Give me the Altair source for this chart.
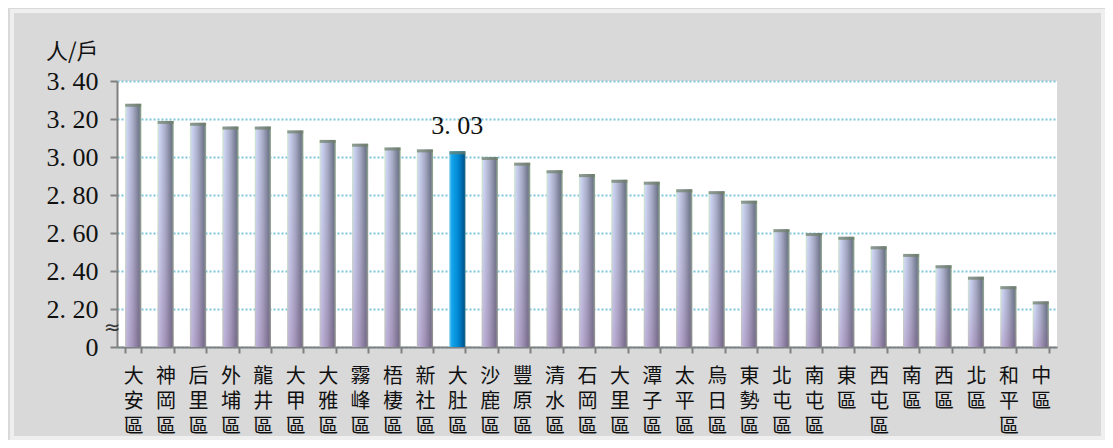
import altair as alt
import pandas as pd

districts = ["大安區", "神岡區", "后里區", "外埔區", "龍井區", "大甲區", "大雅區", "霧峰區",
             "梧棲區", "新社區", "大肚區", "沙鹿區", "豐原區", "清水區", "石岡區", "大里區",
             "潭子區", "太平區", "烏日區", "東勢區", "北屯區", "南屯區", "東區", "西屯區",
             "南區", "西區", "北區", "和平區", "中區"]
values = [3.28, 3.19, 3.18, 3.16, 3.16, 3.14, 3.09, 3.07, 3.05, 3.04, 3.03, 3.00, 2.97,
          2.93, 2.91, 2.88, 2.87, 2.83, 2.82, 2.77, 2.62, 2.60, 2.58, 2.53, 2.49, 2.43,
          2.37, 2.32, 2.24]
highlight = "大肚區"
y_ticks = [2.0, 2.2, 2.4, 2.6, 2.8, 3.0, 3.2, 3.4]
y_min, y_max = 2.0, 3.4

df = pd.DataFrame({"district": districts, "value": values})
df["hl"] = df["district"] == highlight

W, H = 940, 266
PL, PT, PR, PB = 109, 73, 48, 93

x = alt.X("district:N", sort=districts,
          scale=alt.Scale(paddingInner=0.5, paddingOuter=0.25),
          axis=alt.Axis(title=None, labelAngle=0, labelExpr="split(datum.label, '')",
                        labelFont="Noto Sans CJK TC", labelFontSize=20, labelLineHeight=25,
                        labelColor="#111111", labelBaseline="top", labelPadding=13,
                        labelOverlap=False,
                        tickBand="extent", tickSize=6, tickWidth=2, tickColor="#808080",
                        domainColor="#808080", domainWidth=2, grid=False))
y = alt.Y("value:Q", scale=alt.Scale(domain=[y_min, y_max], zero=False, nice=False),
          axis=alt.Axis(values=y_ticks, tickCount=20, title="人/戶", titleAngle=0, titleAlign="right",
                        titleX=-19, titleY=-23, titleBaseline="alphabetic",
                        titleFont="Noto Sans CJK TC", titleFontSize=22, titleFontWeight="normal",
                        titleColor="#111111",
                        labelExpr="datum.value < 2.1 ? '0' : replace(format(datum.value, '.2f'), '.', '. ')",
                        labelFont="Liberation Serif", labelFontSize=26, labelColor="#111111",
                        labelOverlap=False, labelBound=False, labelFlush=False,
                        labelPadding=12, tickSize=7, tickWidth=2, tickColor="#808080",
                        domainColor="#808080", domainWidth=2,
                        grid=True, gridColor="#7cc6dc", gridDash=[2, 2], gridWidth=2))
y2 = alt.Y2(datum=y_min)

grad_normal = alt.Gradient(gradient="linear", x1=0, x2=1, y1=0, y2=0, stops=[
    alt.GradientStop(color="#cfe9c6", offset=0),
    alt.GradientStop(color="#cdd5f4", offset=0.12),
    alt.GradientStop(color="#a6aac4", offset=0.5),
    alt.GradientStop(color="#6e768a", offset=0.86),
    alt.GradientStop(color="#95b08e", offset=1)])
grad_hl = alt.Gradient(gradient="linear", x1=0, x2=1, y1=0, y2=0, stops=[
    alt.GradientStop(color="#7fd0f0", offset=0),
    alt.GradientStop(color="#14a6ec", offset=0.15),
    alt.GradientStop(color="#0088d2", offset=0.55),
    alt.GradientStop(color="#005a96", offset=0.9),
    alt.GradientStop(color="#2f6f7a", offset=1)])
grad_shade = alt.Gradient(gradient="linear", x1=0, x2=0, y1=0, y2=1, stops=[
    alt.GradientStop(color="rgba(190,170,210,0)", offset=0),
    alt.GradientStop(color="rgba(150,90,150,0.3)", offset=1)])

base = alt.Chart(df)

bars = base.transform_filter("!datum.hl").mark_bar(color=grad_normal).encode(x=x, y=y, y2=y2)
bars_hl = base.transform_filter("datum.hl").mark_bar(color=grad_hl).encode(x=x, y=y, y2=y2)
shade = base.transform_filter("!datum.hl").mark_bar(color=grad_shade).encode(x=x, y=y, y2=y2)
caps = base.mark_tick(orient="horizontal", thickness=3, size=16, color="#6f8068",
                      yOffset=1.5).encode(x=x, y=y)
label = base.transform_filter("datum.hl").transform_calculate(
    lbl="replace(format(datum.value, '.2f'), '.', '. ')").mark_text(
    font="Liberation Serif", fontSize=26, color="#111111", baseline="alphabetic",
    dy=-17).encode(x=x, y=y, text="lbl:N")
brk = alt.Chart(pd.DataFrame({"s": ["≈"]})).mark_text(
    fontSize=20, color="#333333", font="DejaVu Sans").encode(
    x=alt.value(-5), y=alt.datum(2.1), text="s:N")
frame = alt.Chart(pd.DataFrame({"k": [0]})).mark_rect(
    fill=None, stroke="#efefef", strokeWidth=4).encode(
    x=alt.value(-PL + 4), x2=alt.value(W + PR - 2), y=alt.value(-PT + 3), y2=alt.value(H + PB - 2))

chart = alt.layer(frame, bars, shade, bars_hl, caps, label, brk).properties(
    width=W, height=H,
    autosize=alt.AutoSizeParams(type="none"),
    padding={"left": PL, "top": PT, "right": PR, "bottom": PB},
    background="#d9d9d9",
).configure_view(fill="#ffffff", stroke=None)

chart.save("out.html", embed_options={"renderer": "svg", "actions": False})
